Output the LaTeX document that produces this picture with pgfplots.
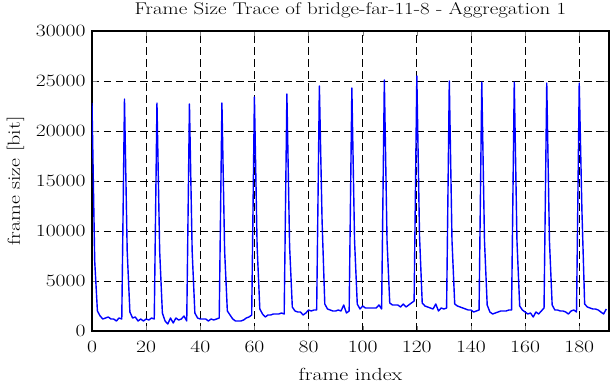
\documentclass[border=0pt]{standalone}
\usepackage{graphicx}
\usepackage{pgfplots}
\pgfplotsset{compat=1.18}
\pgfplotstableread{
x y
0 22800
1 7000
2 2000
3 1500
4 1200
5 1300
6 1400
7 1200
8 1200
9 1000
10 1300
11 1200
12 23200
13 8000
14 1900
15 1300
16 1400
17 1000
18 1200
19 1000
20 1200
21 1100
22 1300
23 1200
24 22800
25 8000
26 1800
27 1000
28 700
29 1300
30 800
31 1300
32 1100
33 1200
34 1500
35 1000
36 22700
37 8000
38 1800
39 1300
40 1200
41 1200
42 1200
43 1000
44 1200
45 1100
46 1200
47 1300
48 22800
49 8000
50 2000
51 1600
52 1200
53 1000
54 1000
55 1000
56 1100
57 1300
58 1400
59 1600
60 23400
61 8500
62 2200
63 1700
64 1400
65 1600
66 1600
67 1700
68 1700
69 1700
70 1800
71 1700
72 23700
73 8500
74 2400
75 2000
76 1900
77 1900
78 1600
79 1800
80 2100
81 2000
82 2100
83 2100
84 24500
85 11000
86 2700
87 2200
88 2100
89 2000
90 2000
91 2100
92 2000
93 2600
94 1800
95 2000
96 24300
97 9000
98 2700
99 2200
100 2500
101 2300
102 2300
103 2300
104 2300
105 2300
106 2600
107 2200
108 25100
109 9000
110 2800
111 2600
112 2600
113 2600
114 2400
115 2700
116 2400
117 2600
118 2800
119 3000
120 25500
121 9500
122 2800
123 2500
124 2400
125 2300
126 2200
127 2700
128 2000
129 2300
130 2200
131 2300
132 25000
133 9000
134 2700
135 2500
136 2400
137 2300
138 2200
139 2100
140 2100
141 1900
142 2000
143 2100
144 24900
145 9000
146 2600
147 1900
148 1700
149 1800
150 1900
151 2000
152 2000
153 2000
154 2100
155 2100
156 24900
157 9000
158 2500
159 2100
160 1900
161 1700
162 1800
163 1400
164 1900
165 1700
166 2000
167 2300
168 24800
169 9000
170 2600
171 2100
172 2100
173 2000
174 2000
175 1900
176 1700
177 2000
178 2100
179 1900
180 24800
181 12000
182 2700
183 2400
184 2300
185 2200
186 2200
187 2100
188 1900
189 1700
190 2200
}\trace
\begin{document}
\begin{tikzpicture}
\begin{axis}[
  name=ax,
  scale only axis,
  width=517pt, height=300pt,
  xmin=0, xmax=191, ymin=0, ymax=30000,
  xtick={0,20,...,180},
  ytick={0,5000,...,30000},
  scaled y ticks=false,
  /pgf/number format/1000 sep={},
  xticklabel={\scalebox{1.25}[1]{$\pgfmathprintnumber{\tick}$}},
  yticklabel={\scalebox{1.25}[1]{$\pgfmathprintnumber{\tick}$}},
  tick label style={font=\fontsize{17}{17}\selectfont},
  xticklabel style={yshift=-7pt},
  yticklabel style={xshift=-3pt},
  title={\scalebox{1.23}[1]{Frame Size Trace of bridge-far-11-8 - Aggregation 1}},
  title style={font=\fontsize{17}{17}\selectfont, at={(axis description cs:0.5,1)}, anchor=base, yshift=10.5pt},
  xlabel={\scalebox{1.25}[1]{frame index}},
  ylabel={\scalebox{1.25}[1]{frame size [bit]}},
  label style={font=\fontsize{17.5}{17.5}\selectfont},
  xlabel style={at={(axis description cs:0.5,0)}, anchor=base, yshift=-49pt},
  ylabel style={at={(axis description cs:-0.1393,0.5)}, anchor=base},
  tick align=inside,
  major tick length=5pt,
  axis line style={line width=1.3pt},
  grid=major,
  major grid style={black, line width=0.7pt, dash pattern=on 7.5pt off 4.5pt},
]
\addplot[color={rgb,255:red,0;green,0;blue,255}, line width=1.4pt, line join=round] table[x=x,y=y] {\trace};
\end{axis}
\pgfresetboundingbox
\path[use as bounding box] ([shift={(-92pt,-51pt)}]ax.south west) rectangle ([shift={(3pt,31pt)}]ax.north east);
\end{tikzpicture}
\end{document}
